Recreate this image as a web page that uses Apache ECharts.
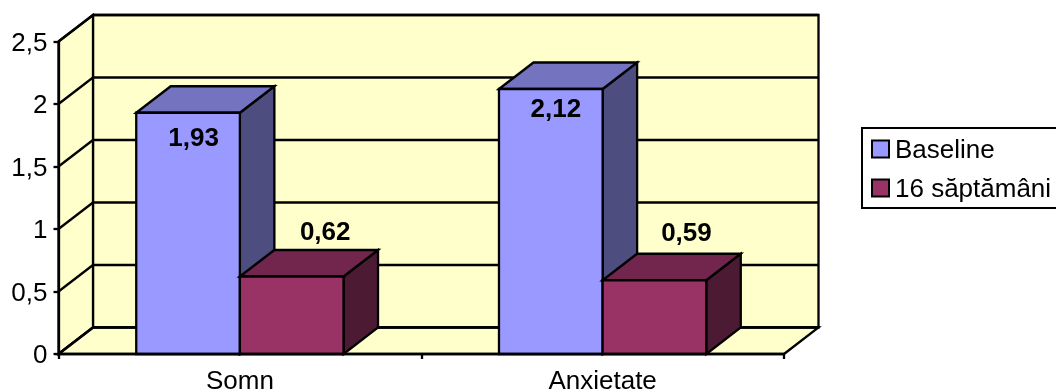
<!DOCTYPE html>
<html>
<head>
<meta charset="utf-8">
<style>html,body{margin:0;padding:0;background:#fff;overflow:hidden}#chart{width:1056px;height:392px}</style>
<script src="https://cdn.jsdelivr.net/npm/echarts@6/dist/echarts.min.js"></script>
</head>
<body>
<div id="chart"></div>
<script>
// Scores per domain, at baseline and after 16 weeks
const categories = ['Somn', 'Anxietate'];
const baseline = [1.93, 2.12];
const week16 = [0.62, 0.59];
const yTicks = [0, 0.5, 1, 1.5, 2, 2.5];
const seriesNames = ['Baseline', '16 săptămâni'];

// Oblique projection of the box: screen shift from the front plane to the back wall
const DEPTH_X = 34.5;
const DEPTH_Y = -26.5;
// Excel-style gap width of 150%: each bar is band / (2 + 1.5)
const GAP_WIDTH = 1.5;
const FONT = '"Liberation Sans", Arial, sans-serif';
const FONT_SIZE = 26;
const LINE = 2.3;

const comma = v => String(v).replace('.', ',');

function poly(points, fill, z2) {
  return {
    type: 'polygon',
    z2: z2 || 0,
    shape: { points },
    style: { fill: fill, stroke: '#000', lineWidth: LINE, lineJoin: 'miter' }
  };
}
function seg(a, b, z2) {
  return {
    type: 'line',
    z2: z2 || 1,
    shape: { x1: a[0], y1: a[1], x2: b[0], y2: b[1] },
    style: { stroke: '#000', lineWidth: LINE }
  };
}
const back = p => [p[0] + DEPTH_X, p[1] + DEPTH_Y];

// Left wall, back wall, floor and the gridlines running around them
function renderWalls(params, api) {
  if (params.dataIndex !== 0) return null;
  const c = params.coordSys;
  const bl = [c.x, c.y + c.height];
  const tl = [c.x, c.y];
  const br = [c.x + c.width, c.y + c.height];
  const tr = [c.x + c.width, c.y];
  const children = [
    poly([back(tl), back(tr), back(br), back(bl)], '#FFFFCC'),
    poly([tl, back(tl), back(bl), bl], '#FFFFCC'),
    poly([bl, back(bl), back(br), br], '#FFFFCC')
  ];
  yTicks.forEach(t => {
    const l = [bl[0], api.coord([0, t])[1]];
    const r = [br[0], l[1]];
    children.push(seg(l, back(l)));
    children.push(seg(back(l), back(r)));
  });
  return { type: 'group', children };
}

// One box per data point; seriesPos 0 sits left of the category centre, 1 right of it
function boxRenderer(seriesPos, front, top, side, labelShift) {
  return function (params, api) {
    const idx = api.value(0);
    const val = api.value(1);
    const band = api.size([1, 0])[0];
    const w = band / (2 + GAP_WIDTH);
    const centre = api.coord([idx, 0])[0];
    const x0 = centre + (seriesPos - 1) * w;
    const x1 = x0 + w;
    const y0 = api.coord([idx, 0])[1];
    const y1 = api.coord([idx, val])[1];
    const fl = [x0, y0], fr = [x1, y0], tl = [x0, y1], tr = [x1, y1];
    const shift = labelShift[idx];
    return {
      type: 'group',
      children: [
        poly([fr, back(fr), back(tr), tr], side, 2),
        poly([tl, back(tl), back(tr), tr], top, 2),
        poly([tl, tr, fr, fl], front, 3),
        {
          type: 'text',
          z2: 5,
          style: {
            x: (x0 + x1) / 2 + shift[0],
            y: y1 + shift[1],
            text: comma(val),
            fill: '#000',
            font: 'bold ' + FONT_SIZE + 'px ' + FONT,
            align: 'center',
            verticalAlign: 'middle'
          }
        }
      ]
    };
  };
}

// Hand placement of the value labels relative to each box's top centre
const baselineLabelShift = [[5.6, 26.5], [5, 21]];
const week16LabelShift = [[33.5, -43.5], [32, -46]];

const pairs = vals => vals.map((v, i) => [i, v]);
const richText = padding => ({ t: { color: '#000', fontFamily: FONT, fontSize: FONT_SIZE, padding } });

const chart = echarts.init(document.getElementById('chart'), null, { renderer: 'canvas' });
chart.setOption({
  animation: false,
  backgroundColor: '#fff',
  grid: { left: 58.5, right: 272, top: 41.5, bottom: 38, containLabel: false, outerBoundsMode: 'none' },
  xAxis: {
    type: 'category',
    data: categories,
    z: 10,
    axisLine: { onZero: false, lineStyle: { color: '#000', width: LINE } },
    axisTick: { show: true, alignWithLabel: false, length: 5, lineStyle: { color: '#000', width: LINE } },
    axisLabel: { color: '#000', fontFamily: FONT, fontSize: FONT_SIZE, margin: 15 },
    splitLine: { show: false }
  },
  yAxis: {
    type: 'value',
    min: 0,
    max: 2.5,
    interval: 0.5,
    z: 10,
    axisLine: { show: true, lineStyle: { color: '#000', width: LINE } },
    axisTick: { show: true, length: 5, lineStyle: { color: '#000', width: LINE } },
    axisLabel: {
      color: '#000', fontFamily: FONT, fontSize: FONT_SIZE, margin: 11,
      formatter: v => '{t|' + comma(v) + '}',
      rich: richText([4, 0, 0, 0])
    },
    splitLine: { show: false }
  },
  legend: {
    left: 862,
    top: 128,
    orient: 'vertical',
    data: seriesNames,
    padding: [10, 12, 5, 9],
    itemGap: 13,
    itemWidth: 17,
    itemHeight: 17,
    borderColor: '#000',
    borderWidth: 2,
    backgroundColor: '#fff',
    icon: 'rect',
    formatter: name => '{t|' + name + '}',
    textStyle: { color: '#000', fontFamily: FONT, fontSize: FONT_SIZE, rich: richText([4, 0, 0, 1]) },
    itemStyle: { borderColor: '#000', borderWidth: 2 }
  },
  series: [
    { type: 'custom', name: 'walls', z: 1, silent: true, data: pairs(yTicks), encode: { x: 0, y: 1 }, renderItem: renderWalls },
    {
      type: 'custom', name: seriesNames[0], z: 3, data: pairs(baseline), encode: { x: 0, y: 1 },
      itemStyle: { color: '#9999FF' },
      renderItem: boxRenderer(0, '#9999FF', '#7373BF', '#4D4D80', baselineLabelShift)
    },
    {
      type: 'custom', name: seriesNames[1], z: 4, data: pairs(week16), encode: { x: 0, y: 1 },
      itemStyle: { color: '#993366' },
      renderItem: boxRenderer(1, '#993366', '#73264D', '#4D1A33', week16LabelShift)
    }
  ]
});
</script>
</body>
</html>
